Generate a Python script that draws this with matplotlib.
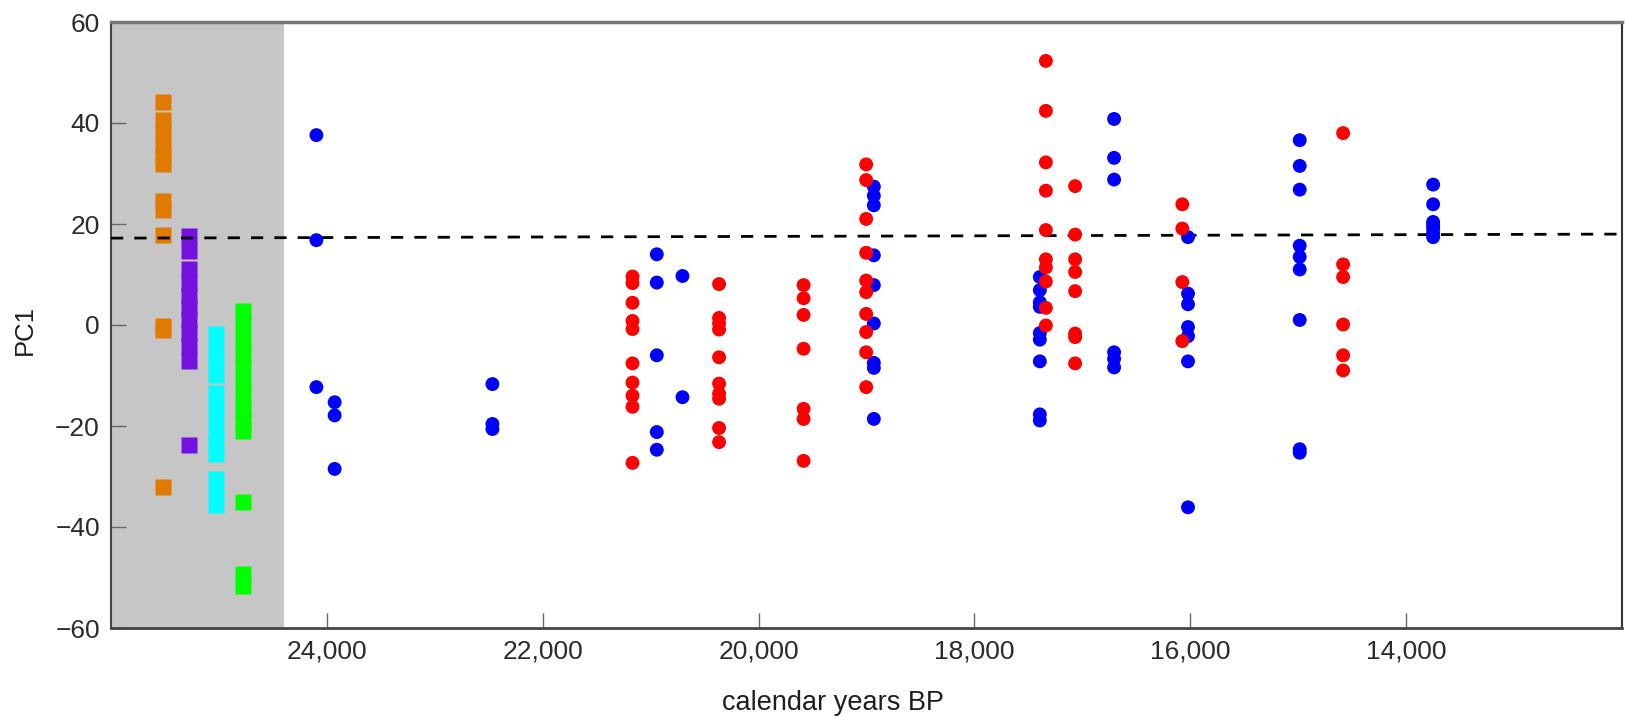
import numpy as np
import matplotlib
matplotlib.use("Agg")
import matplotlib.pyplot as plt
from matplotlib.ticker import FuncFormatter

plt.rcParams["font.family"] = ["Liberation Sans", "DejaVu Sans"]

# --- data (calendar years BP, PC1) ---
# blue samples, grouped by age
blue_ages = [24097, 23928, 22466, 20943, 20705, 18932, 17394, 16706, 16021, 14986, 13750]
blue_pc1 = [
    [37.6, 16.8, -12.3],
    [-15.3, -17.9, -28.5],
    [-11.7, -19.6, -20.6],
    [14.0, 8.4, -6.0, -21.2, -24.7],
    [9.7, -14.3],
    [27.4, 25.6, 23.7, 13.8, 7.9, 0.3, -7.5, -8.5, -18.6],
    [9.5, 6.9, 4.5, 3.6, -1.6, -2.9, -7.2, -17.7, -18.9],
    [40.8, 33.1, 28.8, -5.4, -6.7, -8.4],
    [17.4, 6.2, 4.1, -0.4, -2.2, -7.2, -36.1],
    [36.6, 31.5, 26.8, 15.7, 13.5, 11.0, 1.0, -24.6, -25.3],
    [27.8, 23.9, 20.4, 19.8, 19.1, 18.2, 17.4],
]

# red samples, grouped by age
red_ages = [21168, 20366, 19583, 19003, 17338, 17067, 16074, 14584]
red_pc1 = [
    [9.6, 8.3, 4.4, 0.8, -0.8, -7.6, -11.4, -14.0, -16.2, -27.3],
    [8.1, 1.4, 0.3, -0.9, -6.4, -11.6, -13.6, -14.6, -20.4, -23.2],
    [7.9, 5.3, 2.0, -4.7, -16.6, -18.6, -26.9],
    [31.8, 28.7, 21.0, 14.3, 8.8, 6.5, 2.2, -1.4, -5.4, -12.3],
    [52.3, 42.4, 32.2, 26.6, 18.8, 13.0, 11.4, 8.6, 3.4, -0.1],
    [27.5, 17.9, 13.0, 10.5, 6.7, -1.7, -2.4, -7.6],
    [23.9, 19.1, 8.5, -3.2],
    [38.0, 12.0, 9.5, 0.1, -6.0, -9.0],
]

# reference populations inside the grey band (square markers)
ref_ages = [25520, 25275, 25030, 24780]
ref_colors = ["#e07b00", "#7410e0", "#00ffff", "#00ff00"]
ref_pc1 = [
    [44.15, 40.6, 38.2, 35.5, 33.5, 31.9, 24.6, 22.7, 17.9, -0.2, -0.9, -32.1],
    [17.6, 14.7, 11.0, 8.4, 5.8, 3.4, 1.0, -1.6, -4.2, -7.1, -23.8],
    [-1.7, -4.3, -7.2, -9.9, -13.4, -16.0, -18.7, -21.2, -23.5, -25.6, -30.4, -33.0, -35.6],
    [2.7, 0.1, -2.8, -5.6, -8.4, -11.3, -14.1, -16.8, -19.0, -20.9, -35.0, -49.3, -51.6],
]

grey_band = (26000, 24400)
trend_x = [26000, 12000]
trend_y = [17.2, 18.0]

x_ticks = [24000, 22000, 20000, 18000, 16000, 14000]
y_ticks = [-60, -40, -20, 0, 20, 40, 60]


def flatten(ages, groups):
    xs = np.concatenate([[a] * len(g) for a, g in zip(ages, groups)])
    ys = np.concatenate(groups)
    return xs, ys


fig = plt.figure(figsize=(16.25, 7.18), dpi=100)
ax = fig.add_axes([111 / 1625, 1 - 628 / 718, 1511 / 1625, 606 / 718])

ax.axvspan(*grey_band, color="#c6c6c6", lw=0, zorder=0)

for age, col, vals in zip(ref_ages, ref_colors, ref_pc1):
    ax.plot([age] * len(vals), vals, ls="none", marker="s", ms=11.5,
            mfc=col, mec="none", zorder=2)

ax.plot(trend_x, trend_y, color="black", lw=2.0, dashes=(4.4, 4), zorder=3)

bx, by = flatten(blue_ages, blue_pc1)
rx, ry = flatten(red_ages, red_pc1)
ax.scatter(bx, by, s=100, color="#0000ff", edgecolors="none", zorder=4)
ax.scatter(rx, ry, s=100, color="#ff0000", edgecolors="none", zorder=5)

ax.set_xlim(26000, 12000)
ax.set_ylim(-60, 60)
ax.set_xticks(x_ticks)
ax.set_yticks(y_ticks)
ax.xaxis.set_major_formatter(FuncFormatter(lambda v, p: f"{int(v):,}"))
ax.tick_params(direction="in", length=10.8, width=1, color="#666666",
               labelsize=19, labelcolor="#2b2b2b", pad=8)

for side, c, w in [("left", "#444444", 1.5), ("bottom", "#444444", 2.0),
                   ("top", "#777777", 2.5), ("right", "#333333", 1.5)]:
    ax.spines[side].set_color(c)
    ax.spines[side].set_linewidth(w)

fig.text(833 / 1625, 1 - 703 / 718, "calendar years BP", ha="center", va="center",
         fontsize=19.5, color="#1e1e1e")
fig.text(25 / 1625, 1 - 330 / 718, "PC1", ha="center", va="center", rotation=90,
         fontsize=18.5, color="#1e1e1e")

fig.savefig("out.png", dpi=100)
